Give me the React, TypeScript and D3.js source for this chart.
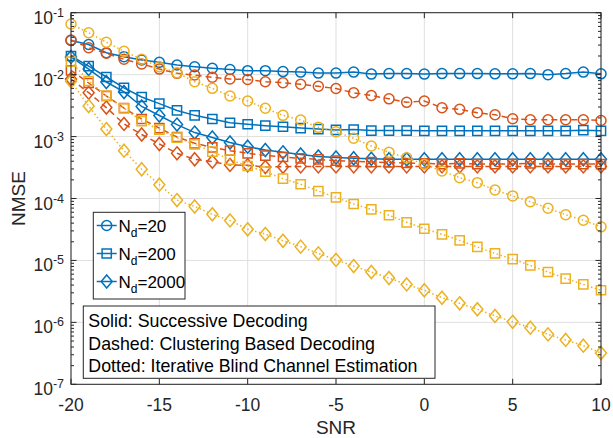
import React from "react";
import * as d3 from "d3";

const snr = [-20, -19, -18, -17, -16, -15, -14, -13, -12, -11, -10, -9, -8, -7, -6, -5, -4, -3, -2, -1, 0, 1, 2, 3, 4, 5, 6, 7, 8, 9, 10];

// Solid: Successive Decoding
const sdNd20 = [0.0356, 0.0307, 0.0226, 0.0195, 0.0172, 0.0158, 0.0143, 0.0134, 0.0127, 0.0121, 0.0116, 0.0116, 0.0112, 0.011, 0.0106, 0.0106, 0.011, 0.0102, 0.0104, 0.0104, 0.0102, 0.0104, 0.0104, 0.0104, 0.0103, 0.0103, 0.0104, 0.01, 0.0104, 0.011, 0.0103];
const sdNd200 = [0.02, 0.0137, 0.00916, 0.00613, 0.00435, 0.0034, 0.00264, 0.0022, 0.00192, 0.00167, 0.00158, 0.0015, 0.00144, 0.00137, 0.00132, 0.00128, 0.0013, 0.00125, 0.00125, 0.00125, 0.00124, 0.00124, 0.00124, 0.00124, 0.00124, 0.00124, 0.00124, 0.00124, 0.00124, 0.00127, 0.00124];
const sdNd2000 = [0.0193, 0.0123, 0.0076, 0.00525, 0.00306, 0.00219, 0.00156, 0.00116, 0.000966, 0.000802, 0.000686, 0.000607, 0.000557, 0.000513, 0.000476, 0.000459, 0.000446, 0.000438, 0.00043, 0.00043, 0.00043, 0.00043, 0.00043, 0.00043, 0.00043, 0.00043, 0.00043, 0.00043, 0.00043, 0.00043, 0.00043];

// Dashed: Clustering Based Decoding
const cbdNd20 = [0.0362, 0.0272, 0.0221, 0.0177, 0.0149, 0.0123, 0.0105, 0.00986, 0.00906, 0.0085, 0.00834, 0.00769, 0.00741, 0.00698, 0.00648, 0.00597, 0.00509, 0.0046, 0.00407, 0.00357, 0.00375, 0.00292, 0.00275, 0.00243, 0.00225, 0.00194, 0.00187, 0.00187, 0.00187, 0.00187, 0.00182];
const cbdNd200 = [0.0117, 0.00733, 0.00452, 0.00289, 0.00192, 0.00137, 0.000984, 0.000778, 0.000671, 0.000591, 0.000537, 0.000494, 0.000468, 0.000446, 0.000427, 0.00041, 0.000398, 0.000388, 0.000381, 0.000374, 0.00037, 0.00036, 0.00037, 0.00036, 0.00036, 0.00036, 0.00037, 0.00036, 0.00036, 0.00036, 0.00036];
const cbdNd2000 = [0.0085, 0.00511, 0.00294, 0.0016, 0.00108, 0.000759, 0.000537, 0.00043, 0.000393, 0.000348, 0.000344, 0.000322, 0.000326, 0.00033, 0.00033, 0.00033, 0.00033, 0.00033, 0.00033, 0.00033, 0.00033, 0.00033, 0.00033, 0.00033, 0.00033, 0.00033, 0.00033, 0.00033, 0.00033, 0.00033, 0.00033];

// Dotted: Iterative Blind Channel Estimation
const ibceNd20 = [0.0657, 0.0475, 0.0333, 0.0238, 0.0177, 0.0134, 0.0107, 0.00769, 0.00601, 0.00452, 0.00375, 0.00286, 0.0022, 0.00185, 0.00141, 0.0012, 0.000938, 0.000705, 0.000559, 0.000454, 0.000357, 0.000278, 0.000217, 0.00018, 0.000137, 0.00011, 0.0000887, 0.0000697, 0.0000547, 0.0000446, 0.0000349];
const ibceNd200 = [0.0162, 0.00789, 0.00457, 0.00286, 0.00178, 0.00129, 0.00096, 0.00075, 0.00057, 0.000423, 0.000335, 0.000271, 0.000209, 0.00017, 0.000132, 0.000104, 0.0000815, 0.0000668, 0.0000536, 0.0000413, 0.0000325, 0.0000264, 0.0000211, 0.0000165, 0.000013, 0.0000105, 0.0000083, 0.0000065, 0.0000051, 0.0000041, 0.0000033];
const ibceNd2000 = [0.0078, 0.00311, 0.00132, 0.000591, 0.000297, 0.000167, 0.0000943, 0.0000743, 0.0000557, 0.0000442, 0.0000318, 0.0000267, 0.0000208, 0.0000167, 0.000013, 0.0000102, 0.0000081, 0.0000065, 0.0000052, 0.0000041, 0.0000033, 0.0000025, 0.00000203, 0.00000163, 0.00000127, 0.00000102, 0.00000082, 0.00000064, 0.00000052, 0.00000042, 0.00000032];

const xTicks = [-20, -15, -10, -5, 0, 5, 10];
const yExps = [-7, -6, -5, -4, -3, -2, -1];
const legendLabels = ["20", "200", "2000"];
const noteLines = ["Solid: Successive Decoding", "Dashed: Clustering Based Decoding", "Dotted: Iterative Blind Channel Estimation"];

const BLUE = "#0072BD";
const RED = "#D95319";
const YELLOW = "#EDB120";
const AX = "#262626";
const FONT = "'Liberation Sans', Arial, Helvetica, sans-serif";

type Marker = "circle" | "square" | "diamond";

function markerPath(m: Marker, cx: number, cy: number): string {
  if (m === "circle") {
    const r = 5;
    return `M${cx - r},${cy}a${r},${r} 0 1,0 ${2 * r},0a${r},${r} 0 1,0 ${-2 * r},0Z`;
  }
  if (m === "square") {
    const s = 4.6;
    return `M${cx - s},${cy - s}h${2 * s}v${2 * s}h${-2 * s}Z`;
  }
  const w = 5.5, h = 6.5;
  return `M${cx},${cy - h}L${cx + w},${cy}L${cx},${cy + h}L${cx - w},${cy}Z`;
}

const series: { data: number[]; color: string; dash: string; marker: Marker }[] = [
  { data: sdNd20, color: BLUE, dash: "", marker: "circle" },
  { data: sdNd200, color: BLUE, dash: "", marker: "square" },
  { data: sdNd2000, color: BLUE, dash: "", marker: "diamond" },
  { data: cbdNd20, color: RED, dash: "6,4", marker: "circle" },
  { data: cbdNd200, color: RED, dash: "6,4", marker: "square" },
  { data: cbdNd2000, color: RED, dash: "6,4", marker: "diamond" },
  { data: ibceNd20, color: YELLOW, dash: "1.5,2.5", marker: "circle" },
  { data: ibceNd200, color: YELLOW, dash: "1.5,2.5", marker: "square" },
  { data: ibceNd2000, color: YELLOW, dash: "1.5,2.5", marker: "diamond" },
];

export default function App() {
  const W = 613, H = 438;
  const L = 71, R = 601, T = 12.7, B = 384.3;
  const x = d3.scaleLinear().domain([-20, 10]).range([L, R]);
  const y = d3.scaleLog().domain([1e-7, 1e-1]).range([B, T]);

  const minorTicks: number[] = [];
  for (let e = -7; e < -1; e++) {
    for (let m = 2; m <= 9; m++) minorTicks.push(m * Math.pow(10, e));
  }

  const markers: Marker[] = ["circle", "square", "diamond"];
  const legRows = [225.5, 253.5, 281.5];
  const noteRows = [321, 343.5, 366];

  return (
    <svg width={W} height={H} style={{ position: "absolute", left: 0, top: 0, background: "#fff" }} fontFamily={FONT}>
      <rect x={0} y={0} width={W} height={H} fill="#fff" />
      {/* grid */}
      {xTicks.map((t) => (
        <line key={"gx" + t} x1={x(t)} x2={x(t)} y1={T} y2={B} stroke="#dfdfdf" strokeWidth={1} />
      ))}
      {yExps.map((e) => (
        <line key={"gy" + e} x1={L} x2={R} y1={y(Math.pow(10, e))} y2={y(Math.pow(10, e))} stroke="#dfdfdf" strokeWidth={1} />
      ))}

      {/* series */}
      {series.map((s, si) => {
        const line = d3.line<number>().x((_, i) => x(snr[i])).y((d) => y(d));
        return (
          <g key={"s" + si}>
            <path d={line(s.data) || ""} fill="none" stroke={s.color} strokeWidth={1.5} strokeDasharray={s.dash || undefined} />
            {s.data.map((v, i) => (
              <path key={i} d={markerPath(s.marker, x(snr[i]), y(v))} fill="none" stroke={s.color} strokeWidth={1.5} />
            ))}
          </g>
        );
      })}

      {/* axes box */}
      <rect x={L} y={T} width={R - L} height={B - T} fill="none" stroke={AX} strokeWidth={1} />
      {xTicks.map((t) => (
        <g key={"xt" + t}>
          <line x1={x(t)} x2={x(t)} y1={B} y2={B - 5.5} stroke={AX} />
          <line x1={x(t)} x2={x(t)} y1={T} y2={T + 5.5} stroke={AX} />
          <text x={x(t)} y={411} textAnchor="middle" fontSize={17.5} fill={AX}>{t}</text>
        </g>
      ))}
      {yExps.map((e) => {
        const yy = y(Math.pow(10, e));
        return (
          <g key={"yt" + e}>
            <line x1={L} x2={L + 5.5} y1={yy} y2={yy} stroke={AX} />
            <line x1={R} x2={R - 5.5} y1={yy} y2={yy} stroke={AX} />
            <text x={64} y={yy + 11} textAnchor="end" fontSize={17.5} fill={AX}>
              10<tspan fontSize={12.5} dy={-7}>{e}</tspan>
            </text>
          </g>
        );
      })}
      {minorTicks.map((v, i) => (
        <g key={"mt" + i}>
          <line x1={L} x2={L + 3} y1={y(v)} y2={y(v)} stroke={AX} />
          <line x1={R} x2={R - 3} y1={y(v)} y2={y(v)} stroke={AX} />
        </g>
      ))}

      <text x={(L + R) / 2} y={434} textAnchor="middle" fontSize={19} fill={AX}>SNR</text>
      <text transform={`translate(25,${(T + B) / 2}) rotate(-90)`} textAnchor="middle" fontSize={19} fill={AX}>NMSE</text>

      {/* legend */}
      <rect x={93.3} y={212.3} width={91.7} height={86.7} fill="#fff" stroke={AX} strokeWidth={1} />
      {legendLabels.map((lab, i) => (
        <g key={"lg" + i}>
          <line x1={96.7} x2={116.7} y1={legRows[i]} y2={legRows[i]} stroke={BLUE} strokeWidth={1.5} />
          <path d={markerPath(markers[i], 106.7, legRows[i])} fill="none" stroke={BLUE} strokeWidth={1.5} />
          <text x={118.5} y={legRows[i] + 6} fontSize={17} fill="#000">
            N<tspan fontSize={12} dy={5}>d</tspan><tspan dy={-5}>={lab}</tspan>
          </text>
        </g>
      ))}

      <rect x={83.3} y={306} width={351.7} height={72.3} fill="#fff" stroke={AX} strokeWidth={1} />
      {noteLines.map((t, i) => (
        <text key={"nt" + i} x={88.3} y={noteRows[i] + 6.3} fontSize={17.8} fill="#000">{t}</text>
      ))}
    </svg>
  );
}
